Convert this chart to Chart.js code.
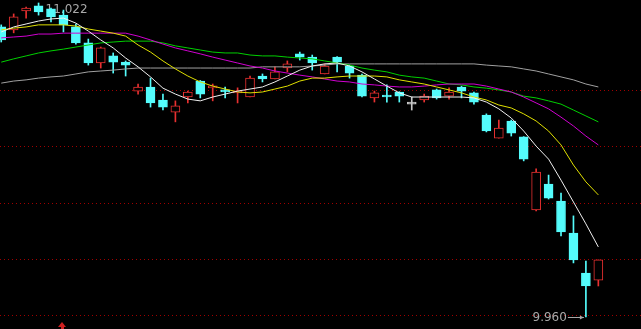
<!DOCTYPE html>
<html>
<head>
<meta charset="utf-8">
<script src="https://cdn.jsdelivr.net/npm/chart.js@4"></script>
<style>
  html, body { margin: 0; padding: 0; background: #000; }
  #wrap { width: 641px; height: 329px; }
</style>
</head>
<body>
<div id="wrap"><canvas id="kline" width="641" height="329"></canvas></div>
<script>
"use strict";
// daily candles, oldest first
const open = [10.941, 10.931, 10.995, 11.012, 11.002, 10.981, 10.941, 10.887, 10.819, 10.843,
  10.822, 10.724, 10.738, 10.694, 10.653, 10.704, 10.758, 10.735, 10.728, 10.718,
  10.704, 10.775, 10.765, 10.802, 10.850, 10.839, 10.782, 10.839, 10.809, 10.778,
  10.701, 10.707, 10.721, 10.680, 10.694, 10.728, 10.707, 10.738, 10.718, 10.643,
  10.565, 10.623, 10.569, 10.322, 10.410, 10.352, 10.244, 10.109, 10.085];
const high = [10.948, 10.985, 11.008, 11.022, 11.005, 10.998, 10.951, 10.900, 10.873, 10.853,
  10.826, 10.748, 10.768, 10.714, 10.691, 10.724, 10.760, 10.748, 10.738, 10.735,
  10.775, 10.782, 10.806, 10.826, 10.856, 10.846, 10.816, 10.841, 10.812, 10.782,
  10.724, 10.745, 10.722, 10.704, 10.714, 10.731, 10.735, 10.741, 10.721, 10.647,
  10.626, 10.626, 10.570, 10.461, 10.440, 10.379, 10.302, 10.149, 10.153];
const low = [10.890, 10.921, 10.971, 10.981, 10.958, 10.924, 10.883, 10.812, 10.802, 10.785,
  10.775, 10.714, 10.670, 10.660, 10.620, 10.684, 10.701, 10.691, 10.701, 10.684,
  10.704, 10.755, 10.765, 10.789, 10.829, 10.795, 10.782, 10.789, 10.768, 10.704,
  10.687, 10.687, 10.687, 10.660, 10.687, 10.697, 10.697, 10.701, 10.680, 10.586,
  10.565, 10.572, 10.488, 10.319, 10.359, 10.234, 10.143, 9.960, 10.065];
const close = [10.897, 10.975, 11.005, 10.992, 10.975, 10.948, 10.887, 10.819, 10.870, 10.822,
  10.812, 10.738, 10.684, 10.670, 10.674, 10.721, 10.714, 10.741, 10.721, 10.724,
  10.768, 10.765, 10.789, 10.816, 10.839, 10.819, 10.809, 10.822, 10.785, 10.707,
  10.718, 10.704, 10.707, 10.680, 10.707, 10.701, 10.721, 10.724, 10.687, 10.589,
  10.599, 10.582, 10.494, 10.450, 10.362, 10.248, 10.153, 10.065, 10.153];

// moving averages
const ma5 = [10.924, 10.941, 10.951, 10.961, 10.968, 10.971, 10.954, 10.927, 10.897, 10.870,
  10.836, 10.806, 10.772, 10.734, 10.714, 10.697, 10.691, 10.704, 10.714, 10.724,
  10.731, 10.738, 10.755, 10.775, 10.795, 10.809, 10.816, 10.819, 10.809, 10.789,
  10.765, 10.741, 10.718, 10.704, 10.704, 10.704, 10.704, 10.704, 10.701, 10.687,
  10.664, 10.633, 10.589, 10.538, 10.494, 10.423, 10.349, 10.275, 10.197];
const ma10 = [10.931, 10.937, 10.941, 10.948, 10.948, 10.948, 10.944, 10.934, 10.927, 10.920,
  10.910, 10.880, 10.856, 10.826, 10.799, 10.775, 10.755, 10.741, 10.731, 10.721,
  10.718, 10.721, 10.731, 10.741, 10.758, 10.768, 10.768, 10.772, 10.775, 10.775,
  10.775, 10.772, 10.762, 10.755, 10.748, 10.738, 10.728, 10.718, 10.704, 10.694,
  10.677, 10.667, 10.647, 10.623, 10.589, 10.542, 10.474, 10.417, 10.373];
const ma20 = [10.904, 10.907, 10.910, 10.917, 10.917, 10.920, 10.920, 10.920, 10.920, 10.920,
  10.920, 10.910, 10.897, 10.883, 10.870, 10.860, 10.850, 10.839, 10.829, 10.819,
  10.809, 10.802, 10.792, 10.785, 10.778, 10.772, 10.765, 10.758, 10.755, 10.748,
  10.745, 10.741, 10.738, 10.738, 10.741, 10.745, 10.748, 10.748, 10.748, 10.741,
  10.731, 10.721, 10.704, 10.684, 10.664, 10.636, 10.606, 10.572, 10.542];
const ma30 = [10.822, 10.833, 10.843, 10.853, 10.860, 10.866, 10.873, 10.880, 10.887, 10.890,
  10.893, 10.893, 10.893, 10.887, 10.877, 10.870, 10.863, 10.856, 10.853, 10.853,
  10.846, 10.843, 10.843, 10.839, 10.836, 10.833, 10.826, 10.819, 10.812, 10.802,
  10.795, 10.789, 10.778, 10.772, 10.768, 10.758, 10.748, 10.745, 10.738, 10.734,
  10.728, 10.721, 10.707, 10.701, 10.691, 10.680, 10.660, 10.640, 10.620];
const ma60 = [10.751, 10.758, 10.762, 10.768, 10.772, 10.775, 10.782, 10.789, 10.792, 10.795,
  10.799, 10.802, 10.802, 10.802, 10.802, 10.802, 10.802, 10.802, 10.802, 10.802,
  10.802, 10.806, 10.806, 10.806, 10.806, 10.809, 10.812, 10.816, 10.816, 10.816,
  10.816, 10.816, 10.816, 10.816, 10.816, 10.816, 10.816, 10.816, 10.816, 10.812,
  10.809, 10.806, 10.799, 10.792, 10.782, 10.772, 10.762, 10.748, 10.738];

// dotted price grid
const gridPrices = [9.966, 10.156, 10.347, 10.537, 10.728];
const highLabel = "11.022";
const lowLabel = "9.960";

const UP = '#e83030';
const DOWN = '#54fcfc';
const FLAT = '#c8c8c8';

function candleColor(i) {
    if (close[i] > open[i]) return UP;
    if (close[i] < open[i]) return DOWN;
    return FLAT;
}

const idx = open.map((v, i) => i);
const colors = idx.map(candleColor);

function lineSet(values, color) {
    return {
        type: 'line',
        data: values.map((v, i) => ({ x: i, y: v })),
        borderColor: color,
        borderWidth: 1,
        pointRadius: 0,
        tension: 0,
        order: 0
    };
}

const markPlugin = {
    id: 'marks',
    beforeDatasetsDraw(chart) {
        const ctx = chart.ctx;
        const xs = chart.scales.x, ys = chart.scales.y;
        ctx.save();
        // dotted grid lines
        ctx.strokeStyle = '#a00000';
        ctx.lineWidth = 1;
        ctx.setLineDash([1, 3]);
        gridPrices.forEach(p => {
            let y = Math.round(ys.getPixelForValue(p)) + 0.5;
            ctx.beginPath();
            ctx.moveTo(0, y);
            ctx.lineTo(chart.width, y);
            ctx.stroke();
        });
        ctx.setLineDash([]);
        let hi = high.indexOf(Math.max(...high));
        ctx.fillStyle = '#a8a8a8';
        ctx.font = '12px "DejaVu Sans", sans-serif';
        ctx.textBaseline = 'middle';
        ctx.fillText(highLabel, xs.getPixelForValue(hi) + 7, ys.getPixelForValue(high[hi]) + 7);
        ctx.restore();
    },
    afterDatasetsDraw(chart) {
        const ctx = chart.ctx;
        const xs = chart.scales.x, ys = chart.scales.y;
        let lo = low.indexOf(Math.min(...low));
        let px = xs.getPixelForValue(lo), py = Math.round(ys.getPixelForValue(low[lo])) + 0.5;
        ctx.save();
        ctx.fillStyle = '#a8a8a8';
        ctx.strokeStyle = '#a8a8a8';
        ctx.font = '12px "DejaVu Sans", sans-serif';
        ctx.textBaseline = 'middle';
        ctx.textAlign = 'right';
        ctx.fillText(lowLabel, px - 19, py);
        ctx.lineWidth = 1;
        ctx.beginPath();
        ctx.moveTo(px - 18, py);
        ctx.lineTo(px - 2, py);
        ctx.stroke();
        ctx.beginPath();
        ctx.moveTo(px - 2, py);
        ctx.lineTo(px - 6, py - 2);
        ctx.lineTo(px - 6, py + 2);
        ctx.closePath();
        ctx.fill();
        // small red signal marker under candle 5
        let bx = Math.round(xs.getPixelForValue(5)) - 1;
        ctx.fillStyle = '#d02020';
        ctx.beginPath();
        ctx.moveTo(bx, 322);
        ctx.lineTo(bx + 4, 327);
        ctx.lineTo(bx - 4, 327);
        ctx.closePath();
        ctx.fill();
        ctx.fillRect(bx - 1, 327, 3, 2);
        ctx.restore();
    }
};

const chart = new Chart(document.getElementById('kline'), {
    type: 'bar',
    data: {
        datasets: [
            lineSet(ma5, '#f0f0f0'),
            lineSet(ma10, '#e0e000'),
            lineSet(ma20, '#d000d0'),
            lineSet(ma30, '#00d000'),
            lineSet(ma60, '#a0a0a0'),
            {
                // bodies
                data: idx.map(i => ({ x: i, y: [open[i], close[i]] })),
                backgroundColor: idx.map(i => colors[i] === UP ? '#000000' : colors[i]),
                borderColor: colors,
                borderWidth: 1,
                borderSkipped: false,
                barThickness: 9,
                minBarLength: 2,
                grouped: false,
                order: 1
            },
            {
                // wicks
                data: idx.map(i => ({ x: i, y: [low[i], high[i]] })),
                backgroundColor: colors,
                borderWidth: 0,
                barThickness: 1,
                grouped: false,
                order: 2
            }
        ]
    },
    options: {
        responsive: false,
        animation: false,
        devicePixelRatio: 1,
        layout: { padding: 0 },
        plugins: {
            legend: { display: false },
            tooltip: { enabled: false }
        },
        scales: {
            x: {
                type: 'linear',
                min: -0.1,
                max: 51.43,
                offset: false,
                display: false
            },
            y: {
                min: 9.9195,
                max: 11.0321,
                display: false
            }
        }
    },
    plugins: [markPlugin]
});
</script>
</body>
</html>
